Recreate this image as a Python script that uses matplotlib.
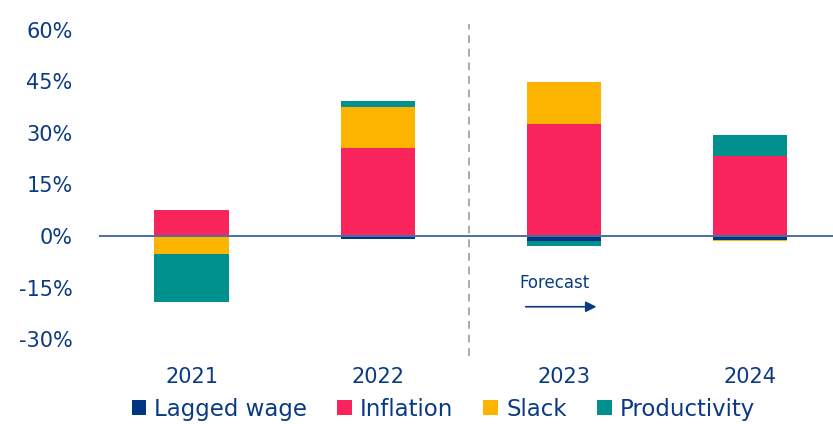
import numpy as np
import matplotlib.pyplot as plt

# values (percentage points)
years = ["2021", "2022", "2023", "2024"]
lagged_wage = [0.0, -0.8, -1.35, -1.25]
inflation = [7.5, 25.5, 32.6, 23.4]
slack = [-5.3, 12.0, 12.3, -0.15]
productivity = [-13.9, 1.6, -1.4, 6.0]
y_ticks = [-30, -15, 0, 15, 30, 45, 60]

series = [
    ("Lagged wage", lagged_wage, "#003781"),
    ("Inflation", inflation, "#F9245B"),
    ("Slack", slack, "#FDB400"),
    ("Productivity", productivity, "#00908D"),
]
navy = "#0A3A82"

plt.rcParams["font.family"] = ["DejaVu Sans"]

fig = plt.figure(figsize=(8.33, 4.24), dpi=100)
ax = fig.add_axes([99 / 833, 68 / 424, 734 / 833, 332 / 424])

x = np.arange(len(years))
pos_base = np.zeros(len(years))
neg_base = np.zeros(len(years))
handles = []
for name, vals, col in series:
    vals = np.array(vals)
    base = np.where(vals >= 0, pos_base, neg_base)
    b = ax.bar(x, vals, width=0.4, bottom=base, color=col, label=name, zorder=2)
    handles.append(b)
    pos_base += np.where(vals >= 0, vals, 0)
    neg_base += np.where(vals < 0, vals, 0)

ax.axhline(0, color="#4A6FA8", lw=1.4, zorder=3)
ax.axvline(1.49, color="#AAAAAA", lw=1.4, ls=(0, (4, 3)), zorder=1)

ax.annotate("", xy=(2.19, -20.5), xytext=(1.78, -20.5),
            arrowprops=dict(arrowstyle="-|>", color=navy, lw=1.2,
                            mutation_scale=16))
ax.text(1.95, -13.6, "Forecast", ha="center", va="center",
        color=navy, fontsize=12)

ax.set_xlim(-0.498, 3.446)
ax.set_ylim(-34.8, 61.6)
ax.set_yticks(y_ticks)
ax.set_yticklabels([f"{t}%" for t in y_ticks])
ax.set_xticks(x)
ax.set_xticklabels(years)
ax.tick_params(axis="both", length=0, labelsize=15, labelcolor=navy)
ax.tick_params(axis="y", pad=19)
ax.tick_params(axis="x", pad=8)
for s in ax.spines.values():
    s.set_visible(False)

fig.legend(handles=handles, loc="center", bbox_to_anchor=(0.532, 0.035),
           ncol=4, frameon=False, fontsize=16.5, labelcolor=navy,
           handlelength=0.65, handleheight=0.65, handletextpad=0.35,
           columnspacing=1.3, borderaxespad=0)

fig.savefig("out.png", dpi=100)
